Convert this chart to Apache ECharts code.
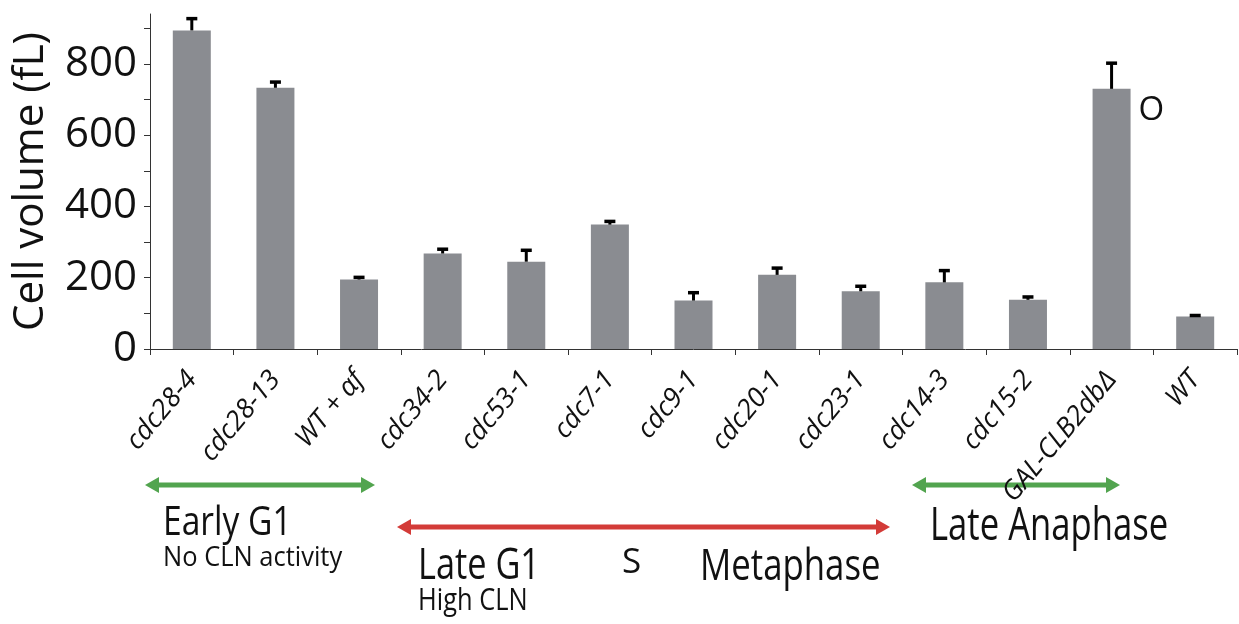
<!DOCTYPE html>
<html>
<head>
<meta charset="utf-8">
<script src="https://cdn.jsdelivr.net/npm/echarts@6/dist/echarts.min.js"></script>
<style>
html,body{margin:0;padding:0;background:#fff;}
#chart{width:1239px;height:624px;}
</style>
</head>
<body>
<div id="chart"></div>
<script>
// ---- data ----
const categories = ['cdc28-4','cdc28-13','WT + \u03b1f','cdc34-2','cdc53-1','cdc7-1','cdc9-1','cdc20-1','cdc23-1','cdc14-3','cdc15-2','GAL-CLB2db\u0394','WT'];
const volumes = [894, 733, 195, 268, 245, 349, 136, 208, 162, 187, 138, 730, 91];
const errors  = [33, 16, 6, 12, 32, 9, 22, 19, 14, 33, 8, 72, 3];
const yMajorTicks = [0, 200, 400, 600, 800];
const yMinorTicks = [0, 100, 200, 300, 400, 500, 600, 700, 800, 900];
const markedIndex = 11;
const markText = 'O';
const phaseLabels = ['Early G1', 'No CLN activity', 'Late G1', 'High CLN', 'S', 'Metaphase', 'Late Anaphase'];

const chart = echarts.init(document.getElementById('chart'), null, {renderer:'canvas'});

const FONT = "'Open Sans', sans-serif";
const BAR = '#8a8c91';
const GREEN = '#52a44f';
const RED = '#d33b38';

function arrow(x1, x2, y, color) {
  const hl = 14, hh = 8, th = 5;
  return {
    type: 'group',
    children: [
      {type:'rect', shape:{x:x1+hl-2, y:y-th/2, width:(x2-x1)-2*hl+4, height:th}, style:{fill:color}},
      {type:'polygon', shape:{points:[[x1,y],[x1+hl,y-hh],[x1+hl,y+hh]]}, style:{fill:color}},
      {type:'polygon', shape:{points:[[x2,y],[x2-hl,y-hh],[x2-hl,y+hh]]}, style:{fill:color}}
    ]
  };
}
// layout for the phase annotations: [x, y, fontSize, horizontal squeeze]
const textLayout = [
  [163, 524, 40, 0.84],
  [163, 558, 28, 0.91],
  [418, 566, 44, 0.78],
  [418, 601, 31, 0.82],
  [622, 563, 35, 1.0],
  [700, 567, 44, 0.79],
  [930, 527, 45, 0.77]
];
function phaseText(i) {
  const L = textLayout[i];
  return {
    type:'text', x:L[0], y:L[1], scaleX:L[3], scaleY:1,
    style:{text:phaseLabels[i], fill:'#111', font: L[2] + 'px ' + FONT, verticalAlign:'middle', align:'left'}
  };
}

const barData = volumes.map((v, i) => i === markedIndex ? {
  value: v,
  label: {show:true, formatter: markText, position:[46,22], verticalAlign:'middle', align:'left',
          fontSize:33, fontFamily:'Open Sans', color:'#111'}
} : v);

const errData = volumes.map((v, i) => [i, v, v + errors[i]]);

chart.setOption({
  animation:false,
  backgroundColor:'#fff',
  grid:{left:150, right:2, top:14, bottom:275, containLabel:false, outerBoundsMode:'none'},
  xAxis:{
    type:'category', data:categories,
    axisLine:{lineStyle:{color:'#333', width:1}},
    axisTick:{show:true, length:6, alignWithLabel:false, lineStyle:{color:'#333', width:1}},
    axisLabel:{interval:0, rotate:50, margin:26, fontSize:27, fontStyle:'italic', fontFamily:'Open Sans', color:'#111'}
  },
  yAxis:{
    type:'value', min:0, max:940,
    name:'Cell volume (fL)', nameLocation:'middle', nameGap:98,
    nameTextStyle:{fontSize:42, fontFamily:'Open Sans', color:'#111'},
    splitLine:{show:false},
    axisLine:{show:true, lineStyle:{color:'#333', width:1}},
    axisTick:{show:true, length:6, customValues:yMinorTicks, lineStyle:{color:'#333', width:1}},
    axisLabel:{customValues:yMajorTicks, fontSize:42, fontFamily:'Open Sans', color:'#111', margin:13, padding:[8,0,0,0]}
  },
  series:[
    {type:'bar', data:barData, barWidth:38, itemStyle:{color:BAR}, z:2},
    {type:'custom', data:errData, z:3,
     renderItem:function(params, api){
       const base = api.coord([api.value(0), api.value(1)]);
       const top = api.coord([api.value(0), api.value(2)]);
       const x = base[0];
       const capW = 11, capH = 3.5, stem = 3;
       return {type:'group', children:[
         {type:'rect', shape:{x:x-stem/2, y:top[1], width:stem, height:Math.max(base[1]-top[1],0)}, style:{fill:'#000'}},
         {type:'rect', shape:{x:x-capW/2, y:top[1]-capH/2, width:capW, height:capH}, style:{fill:'#000'}}
       ]};
     }}
  ],
  graphic:[
    arrow(145, 375, 485, GREEN),
    arrow(397, 890, 527, RED),
    arrow(912, 1120, 485, GREEN),
    phaseText(0), phaseText(1), phaseText(2), phaseText(3), phaseText(4), phaseText(5), phaseText(6)
  ]
});
</script>
</body>
</html>
